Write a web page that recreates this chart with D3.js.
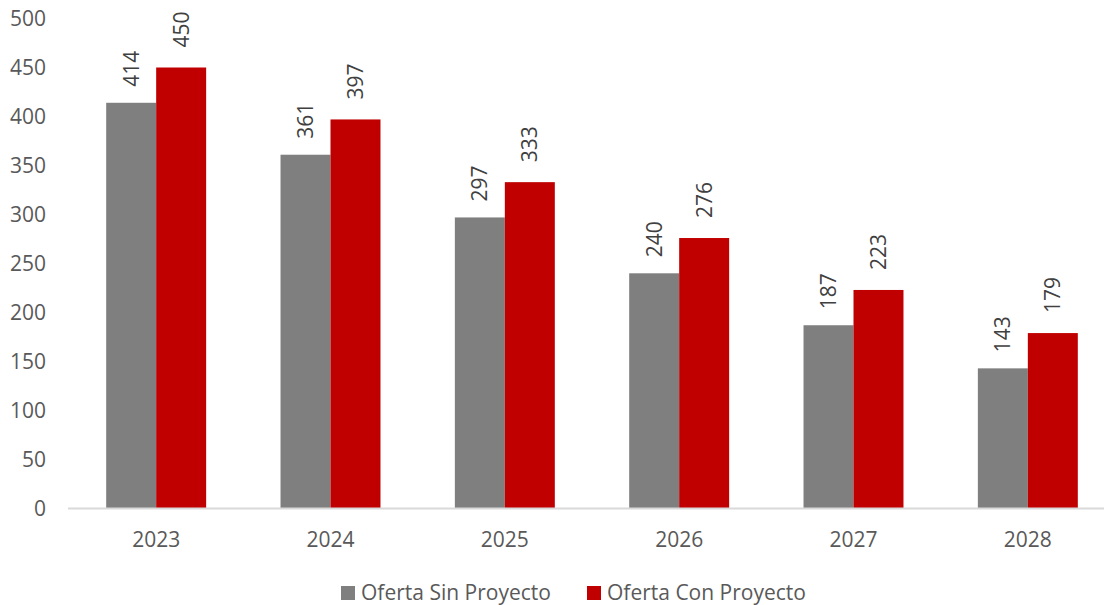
<!DOCTYPE html>
<html>
<head>
<meta charset="utf-8">
<script src="https://cdn.jsdelivr.net/npm/d3@7"></script>
<style>
  body { margin: 0; background: #fff; }
  svg { display: block; font-family: "Open Sans", sans-serif; }
</style>
</head>
<body>
<svg id="chart" width="1104" height="605"></svg>
<script>
// datos del gráfico
const years = ["2023", "2024", "2025", "2026", "2027", "2028"];
const seriesNames = ["Oferta Sin Proyecto", "Oferta Con Proyecto"];
const sinProyecto = [414, 361, 297, 240, 187, 143];
const conProyecto = [450, 397, 333, 276, 223, 179];
const yTicks = [0, 50, 100, 150, 200, 250, 300, 350, 400, 450, 500];

const colors = ["#7f7f7f", "#c00000"];
const fontSize = "21px";

const svg = d3.select("#chart");

const x0 = d3.scaleBand()
    .domain(years)
    .range([69, 1115])
    .paddingInner(0.4266)
    .paddingOuter(0.2133);

const x1 = d3.scaleBand()
    .domain([0, 1])
    .range([0, x0.bandwidth()]);

const y = d3.scaleLinear()
    .domain([0, 500])
    .range([508.5, 18.5]);

// eje Y (solo etiquetas)
const yAxis = svg.append("g")
    .attr("transform", "translate(46,0)")
    .call(d3.axisLeft(y).tickValues(yTicks).tickSize(0).tickPadding(0));
yAxis.select(".domain").remove();
yAxis.selectAll("text")
    .attr("fill", "#595959")
    .style("font-size", fontSize)
    .style("font-family", "'Open Sans', sans-serif")
    .attr("dy", "0.35em");

// barras
const rows = years.map((yr, i) => ({ year: yr, values: [sinProyecto[i], conProyecto[i]] }));

const groups = svg.append("g")
    .selectAll("g")
    .data(rows)
    .join("g")
    .attr("transform", d => `translate(${x0(d.year)},0)`);

groups.selectAll("rect")
    .data(d => d.values.map((v, k) => ({ k, v })))
    .join("rect")
    .attr("x", d => x1(d.k))
    .attr("width", x1.bandwidth())
    .attr("y", d => y(d.v))
    .attr("height", d => y(0) - y(d.v))
    .attr("fill", d => colors[d.k]);

// etiquetas de datos (rotadas)
groups.selectAll("text")
    .data(d => d.values.map((v, k) => ({ k, v })))
    .join("text")
    .attr("transform", d => {
        const cx = x1(d.k) + x1.bandwidth() / 2;
        const cy = y(d.v) - (d.k === 0 ? 34 : 38);
        return `translate(${cx},${cy}) rotate(-90)`;
    })
    .attr("text-anchor", "middle")
    .attr("dy", "0.35em")
    .attr("fill", "#404040")
    .style("font-size", fontSize)
    .text(d => d.v);

// eje X
svg.append("line")
    .attr("x1", 68).attr("x2", 1115)
    .attr("y1", y(0)).attr("y2", y(0))
    .attr("stroke", "#d9d9d9")
    .attr("stroke-width", 2);

const xAxis = svg.append("g")
    .attr("transform", `translate(0,${y(0)})`)
    .call(d3.axisBottom(x0).tickSize(0).tickPadding(0));
xAxis.select(".domain").remove();
xAxis.selectAll("text")
    .attr("fill", "#595959")
    .attr("dy", null)
    .attr("y", 38)
    .style("font-size", fontSize)
    .style("font-family", "'Open Sans', sans-serif");

// leyenda
const legendX = [341, 587];
const legend = svg.append("g")
    .selectAll("g")
    .data(seriesNames)
    .join("g")
    .attr("transform", (d, i) => `translate(${legendX[i]},586)`);

legend.append("rect")
    .attr("width", 14)
    .attr("height", 14)
    .attr("fill", (d, i) => colors[i]);

legend.append("text")
    .attr("x", 20)
    .attr("y", 7)
    .attr("dy", "0.35em")
    .attr("fill", "#595959")
    .style("font-size", fontSize)
    .text(d => d);
</script>
</body>
</html>
